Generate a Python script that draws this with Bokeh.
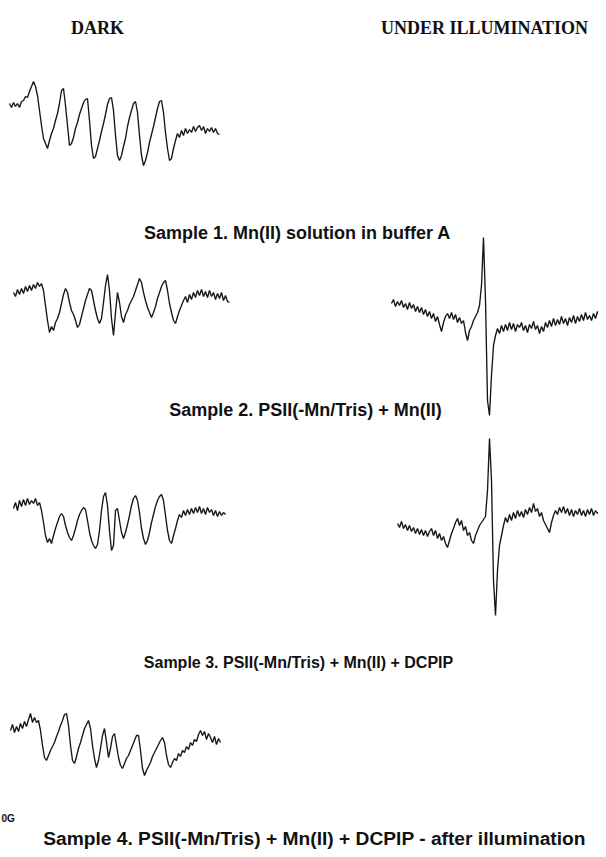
import numpy as np
from bokeh.plotting import figure
from bokeh.models import Range1d, ColumnDataSource
from bokeh.core.properties import value, field
from bokeh.embed import file_html
from bokeh.resources import INLINE

# ---- data: EPR signal amplitudes (arbitrary units, positive = up), sampled every 2 G ----
S1_DARK = [0, -4, 1, -3, 0, -4, 2, 3, 7, 6, 12, 17, 22, 17, 8, -7, -22, -35, -40, -45,
           -37, -30, -25, -17, -10, 0, 13, 15, -2, -22, -42, -40, -34, -25, -19, -11, -5, 1, 4, 5,
           -17, -42, -55, -53, -45, -37, -28, -20, -11, -1, 5, 6, -7, -32, -52, -57, -52, -43, -35, -23,
           -14, -7, 0, 2, -9, -32, -52, -62, -57, -49, -39, -31, -23, -14, -5, 2, 3, -9, -29, -45,
           -57, -55, -45, -37, -30, -34, -27, -32, -25, -30, -26, -29, -23, -28, -24, -22, -27, -23, -30, -25,
           -28, -24, -29, -25, -30, -31]

S2_DARK = [0, -4, 3, -2, 4, -1, 6, 1, 7, 2, 8, 4, 10, 6, 9, 2, -13, -28, -40, -34,
           -38, -30, -26, -20, -11, -2, 4, 0, -10, -18, -22, -28, -35, -32, -24, -16, -8, -2, 4, 2,
           -8, -18, -26, -31, -26, -10, 7, 18, 2, -26, -43, -20, 0, -10, -24, -30, -22, -18, -12, -8,
           -4, 2, 8, 14, 10, 0, -8, -15, -20, -25, -20, -14, -6, 0, 6, 10, 12, 2, -11, -20,
           -28, -31, -24, -18, -13, -8, -4, -10, -2, -7, 0, -5, 2, -3, 3, -4, 1, -5, 2, -4,
           0, -7, -1, -6, 0, -8, -3, -9, -10]

S2_LIGHT = [0, 4, -3, 2, -2, 3, -4, 0, -6, 1, -5, -1, -8, -3, -9, -4, -11, -6, -13, -8,
            -15, -10, -18, -13, -21, -28, -19, -13, -10, -15, -9, -16, -11, -19, -14, -20, -17, -29, -37, -27,
            -23, -17, -13, -9, -2, 18, 66, 3, -97, -112, -72, -42, -32, -25, -30, -22, -28, -21, -27, -19,
            -26, -20, -28, -21, -24, -19, -27, -22, -29, -21, -25, -18, -26, -22, -30, -23, -28, -19, -24, -17,
            -23, -15, -22, -16, -21, -13, -20, -15, -22, -14, -19, -12, -20, -13, -18, -11, -17, -9, -16, -12,
            -17, -10, -15, -8, -13]

S3_DARK = [0, 6, -2, 8, 2, 9, 3, 10, 4, 8, 5, 10, 3, 6, -2, -14, -27, -34, -30, -35,
           -27, -20, -14, -8, -5, -8, -17, -24, -29, -32, -27, -20, -12, -6, -2, 1, -1, -12, -24, -32,
           -37, -40, -36, -22, -2, 12, 16, 3, -22, -42, -37, -2, 0, -12, -24, -30, -24, -16, -7, 3,
           10, 13, 8, -4, -20, -30, -36, -32, -24, -14, -6, 2, 8, 12, 14, 8, -7, -22, -32, -35,
           -27, -20, -12, -6, -9, -2, -7, -1, -6, 0, -5, 1, -4, 2, -5, 0, -6, 1, -4, -1,
           -7, -2, -8, -3, -7, -4, -6]

S3_LIGHT = [0, -4, 2, -5, -1, -7, -2, -8, -4, -10, -5, -11, -6, -12, -7, -13, -8, -5, -12, -7,
            -15, -10, -17, -13, -20, -24, -17, -10, -5, 1, 5, -2, 3, -7, -3, -12, -9, -17, -20, -12,
            -7, -2, 1, 4, 7, 33, 85, 43, -57, -92, -47, -22, -12, -2, 6, 1, 9, 3, 11, 5,
            13, 7, 12, 6, 14, 9, 16, 11, 20, 12, 15, 7, 11, 3, -1, -5, -9, 1, 8, 13,
            9, 16, 11, 17, 10, 15, 8, 14, 7, 13, 9, 15, 8, 13, 7, 14, 9, 15, 8, 13,
            10, 12]

S4_DARK = [0, 6, -2, 4, -1, 7, 2, 9, 4, 11, 17, 8, 13, 8, 10, 0, -15, -27, -30, -25,
           -20, -16, -12, -6, -1, 5, 10, 16, 17, 5, -15, -30, -33, -26, -18, -12, -5, 2, 6, 10,
           2, -15, -28, -37, -30, -18, -5, 2, -12, -27, -18, -6, -3, -15, -27, -35, -38, -33, -28, -25,
           -20, -15, -10, -5, -5, -20, -38, -45, -40, -36, -32, -26, -22, -18, -14, -10, -7, -12, -25, -34,
           -37, -32, -28, -30, -23, -26, -20, -22, -16, -19, -12, -15, -9, -11, -4, 0, -5, -1, -9, -3,
           -7, -12, -6, -14, -8, -12]

HEADERS = ["DARK", "UNDER ILLUMINATION"]
SAMPLE_LABELS = [
    "Sample 1. Mn(II) solution in buffer A",
    "Sample 2. PSII(-Mn/Tris) + Mn(II)",
    "Sample 3. PSII(-Mn/Tris) + Mn(II) + DCPIP",
    "Sample 4. PSII(-Mn/Tris) + Mn(II) + DCPIP - after illumination",
]
SCALE_LABEL = "0G"

# ---- figure (picture-pixel coordinates, y downward) ----
W, H = 598, 849
p = figure(width=W, height=H, x_range=Range1d(0, W), y_range=Range1d(H, 0),
           output_backend="svg", toolbar_location=None, min_border=0,
           x_axis_type=None, y_axis_type=None)
p.grid.visible = False
p.outline_line_color = None
p.background_fill_color = "white"
p.border_fill_color = "white"

STEP = 2.0
placements = [  # (signal, left x, baseline y)
    (S1_DARK, 9, 103),
    (S2_DARK, 13, 292),
    (S2_LIGHT, 391, 303),
    (S3_DARK, 13, 508),
    (S3_LIGHT, 397, 523),
    (S4_DARK, 10, 730),
]
for sig, x0, y0 in placements:
    s = np.asarray(sig, dtype=float)
    xs = x0 + STEP * np.arange(len(s))
    ys = y0 - s
    p.line(xs, ys, line_color="#151515", line_width=1.35)

# headers
p.text(x=[97, 484], y=[27, 27], text=HEADERS, text_font=value("Liberation Serif"),
       text_font_style="bold", text_font_size="18px", text_align="center",
       text_baseline="alphabetic", text_color="#111111")

# sample labels
lab = ColumnDataSource(dict(x=[297, 305, 298, 314], y=[232, 409, 662, 838],
                            text=SAMPLE_LABELS,
                            size=["18px", "18px", "16px", "19.2px"]))
p.text(x="x", y="y", text="text", source=lab, text_font=value("Liberation Sans"),
       text_font_style="bold", text_font_size=field("size"), text_align="center",
       text_baseline="alphabetic", text_color="#111111")

p.text(x=[1], y=[818], text=[SCALE_LABEL], text_font=value("Liberation Sans"),
       text_font_style="bold", text_font_size="10px", text_align="left",
       text_baseline="alphabetic", text_color="#111111")

open("out.html", "w").write(file_html(p, INLINE))
